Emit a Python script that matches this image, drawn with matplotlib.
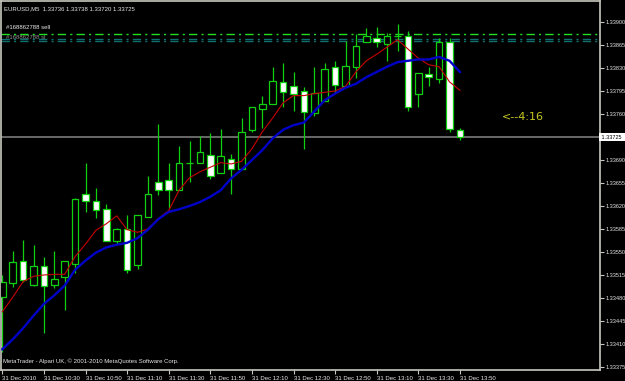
import numpy as np
import matplotlib.pyplot as plt

# EURUSD M5, 31 Dec 2010, 10:10 .. 13:50
opens = [1.33482, 1.33503, 1.33537, 1.33500, 1.33528, 1.33500, 1.33512, 1.33531, 1.33639, 1.33628,
         1.33616, 1.33567, 1.33585, 1.33530, 1.33604, 1.33656, 1.33659, 1.33645, 1.33685, 1.33685,
         1.33697, 1.33670, 1.33691, 1.33676, 1.33735, 1.33768, 1.33776, 1.33809, 1.33803, 1.33795,
         1.33761, 1.33780, 1.33832, 1.33803, 1.33832, 1.33869, 1.33876, 1.33867, 1.33878, 1.33879,
         1.33790, 1.33821, 1.33813, 1.33869, 1.33736]
highs = [1.33515, 1.33552, 1.33568, 1.33561, 1.33543, 1.33552, 1.33537, 1.33632, 1.33685, 1.33648,
         1.33623, 1.33587, 1.33606, 1.33606, 1.33665, 1.33745, 1.33685, 1.33711, 1.33719, 1.33727,
         1.33731, 1.33737, 1.33699, 1.33754, 1.33770, 1.33788, 1.33832, 1.33838, 1.33824, 1.33801,
         1.33831, 1.33838, 1.33840, 1.33871, 1.33882, 1.33891, 1.33893, 1.33883, 1.33897, 1.33887,
         1.33822, 1.33832, 1.33876, 1.33875, 1.33738]
lows = [1.33398, 1.33497, 1.33505, 1.33499, 1.33426, 1.33495, 1.33462, 1.33518, 1.33611, 1.33602,
        1.33566, 1.33562, 1.33518, 1.33524, 1.33604, 1.33636, 1.33617, 1.33645, 1.33656, 1.33685,
        1.33661, 1.33670, 1.33639, 1.33676, 1.33733, 1.33739, 1.33776, 1.33770, 1.33765, 1.33707,
        1.33757, 1.33780, 1.33792, 1.33803, 1.33815, 1.33869, 1.33862, 1.33841, 1.33856, 1.33765,
        1.33770, 1.33802, 1.33807, 1.33732, 1.33720]
closes = [1.33504, 1.33535, 1.33508, 1.33529, 1.33499, 1.33509, 1.33536, 1.33631, 1.33628, 1.33614,
          1.33567, 1.33585, 1.33522, 1.33606, 1.33639, 1.33644, 1.33644, 1.33685, 1.33686, 1.33702,
          1.33666, 1.33696, 1.33676, 1.33732, 1.33770, 1.33776, 1.33810, 1.33793, 1.33790, 1.33763,
          1.33792, 1.33828, 1.33804, 1.33833, 1.33864, 1.33878, 1.33869, 1.33878, 1.33878, 1.33770,
          1.33822, 1.33817, 1.33870, 1.33737, 1.33725]

ma_fast = [1.33459, 1.33481, 1.33505, 1.33513, 1.33515, 1.33516, 1.33516, 1.33543, 1.33562, 1.33583,
           1.33593, 1.33605, 1.33584, 1.33580, 1.33585, 1.33601, 1.33613, 1.33644, 1.33663, 1.33672,
           1.33679, 1.33686, 1.33684, 1.33688, 1.33707, 1.33733, 1.33754, 1.33777, 1.33788, 1.33788,
           1.33791, 1.33793, 1.33795, 1.33802, 1.33824, 1.33841, 1.33851, 1.33862, 1.33873, 1.33859,
           1.33845, 1.33835, 1.33832, 1.33809, 1.33796]
ma_slow = [1.33402, 1.33417, 1.33434, 1.33453, 1.33471, 1.33484, 1.33499, 1.33523, 1.33537, 1.33549,
           1.33557, 1.33561, 1.33564, 1.33571, 1.33584, 1.33600, 1.33611, 1.33615, 1.33620, 1.33626,
           1.33634, 1.33644, 1.33662, 1.33675, 1.33690, 1.33705, 1.33723, 1.33736, 1.33743, 1.33747,
           1.33764, 1.33781, 1.33791, 1.33800, 1.33806, 1.33816, 1.33824, 1.33832, 1.33839, 1.33841,
           1.33843, 1.33843, 1.33847, 1.33841, 1.33824]

time_labels = ['31 Dec 2010', '31 Dec 10:30', '31 Dec 10:50', '31 Dec 11:10', '31 Dec 11:30',
               '31 Dec 11:50', '31 Dec 12:10', '31 Dec 12:30', '31 Dec 12:50', '31 Dec 13:10',
               '31 Dec 13:30', '31 Dec 13:50']
price_ticks = [1.33900, 1.33865, 1.33830, 1.33795, 1.33760, 1.33725, 1.33690, 1.33655, 1.33620,
               1.33585, 1.33550, 1.33515, 1.33480, 1.33445, 1.33410, 1.33375]

order_price = 1.33882
sl_prices = [1.33874, 1.33871]
bid = 1.33725

fg = '#c8c8c0'
green = '#10d010'
small = dict(family='Liberation Sans', fontsize=4.3, color='#e8e8e8')

fig = plt.figure(figsize=(6.25, 3.81), dpi=100, facecolor='black')
ax = fig.add_axes([1/625, 11/381, 599/625, 369/381], facecolor='black')

n = len(opens)
x = np.arange(n)
o = np.array(opens); c = np.array(closes)

ax.vlines(x, lows, highs, color=green, lw=0.9, zorder=2)
bull = c >= o
body_lo = np.minimum(o, c)
body_h = np.maximum(np.abs(c - o), 0.000012)
ax.bar(x[bull], body_h[bull], bottom=body_lo[bull], width=0.62,
       facecolor='black', edgecolor=green, lw=0.9, zorder=3)
ax.bar(x[~bull], body_h[~bull], bottom=body_lo[~bull], width=0.62,
       facecolor='white', edgecolor=green, lw=0.9, zorder=3)

ax.plot(x, ma_fast, color='#c80000', lw=0.8, zorder=4)
ax.plot(x, ma_slow, color='#0000c8', lw=1.7, zorder=4)

ax.axhline(bid, color='#707070', lw=1.3, zorder=1)
ax.axhline(order_price, color='#20e020', lw=1.0, dashes=(6, 3, 1.5, 3), zorder=1)
for p in sl_prices:
    ax.axhline(p, color='#107070', lw=1.0, dashes=(6, 3, 1.5, 3), zorder=1)

ax.set_xlim(-0.125, 57.47)
ax.set_ylim(1.333704, 1.339320)

ax.yaxis.tick_right()
ax.set_yticks(price_ticks)
ax.set_yticklabels(['%.5f' % p if p != bid else '' for p in price_ticks],
                   family='Liberation Sans', fontsize=4.0)
ax.set_xticks(x[::4])
ax.set_xticklabels(time_labels, family='Liberation Sans', fontsize=4.3)
for lab in ax.get_xticklabels():
    lab.set_ha('left')
ax.tick_params(axis='both', colors=fg, labelcolor='#e8e8e8',
               length=3, width=0.8, pad=1)
for s in ax.spines.values():
    s.set_color(fg)
    s.set_linewidth(1.2)

ax.text(1.0, bid, ' 1.33725  ', transform=ax.get_yaxis_transform(), family='Liberation Sans',
        fontsize=4.0, color='black', va='center', ha='left',
        bbox=dict(facecolor='white', edgecolor='none', pad=1.0), zorder=6)

ax.text(0.005, 0.985, 'EURUSD,M5  1.33736 1.33738 1.33720 1.33725', transform=ax.transAxes,
        va='top', ha='left', **small)
ax.text(0.008, 1.33892, '#168862788 sell', va='center', ha='left',
        transform=ax.get_yaxis_transform(), zorder=5, **small)
ax.text(0.008, 1.33876, '#168862788 sl', family='Liberation Sans', fontsize=4.3, color='#909090',
        va='center', ha='left', transform=ax.get_yaxis_transform(), zorder=0)
ax.text(0.003, 0.015, 'MetaTrader - Alpari UK, \u00a9 2001-2010 MetaQuotes Software Corp.',
        transform=ax.transAxes, va='bottom', ha='left', **small)
ax.text(48, 1.33755, '<--4:16', fontsize=8, color='#c8c820', va='center', ha='left')

fig.savefig('out.png', dpi=100, facecolor='black')
